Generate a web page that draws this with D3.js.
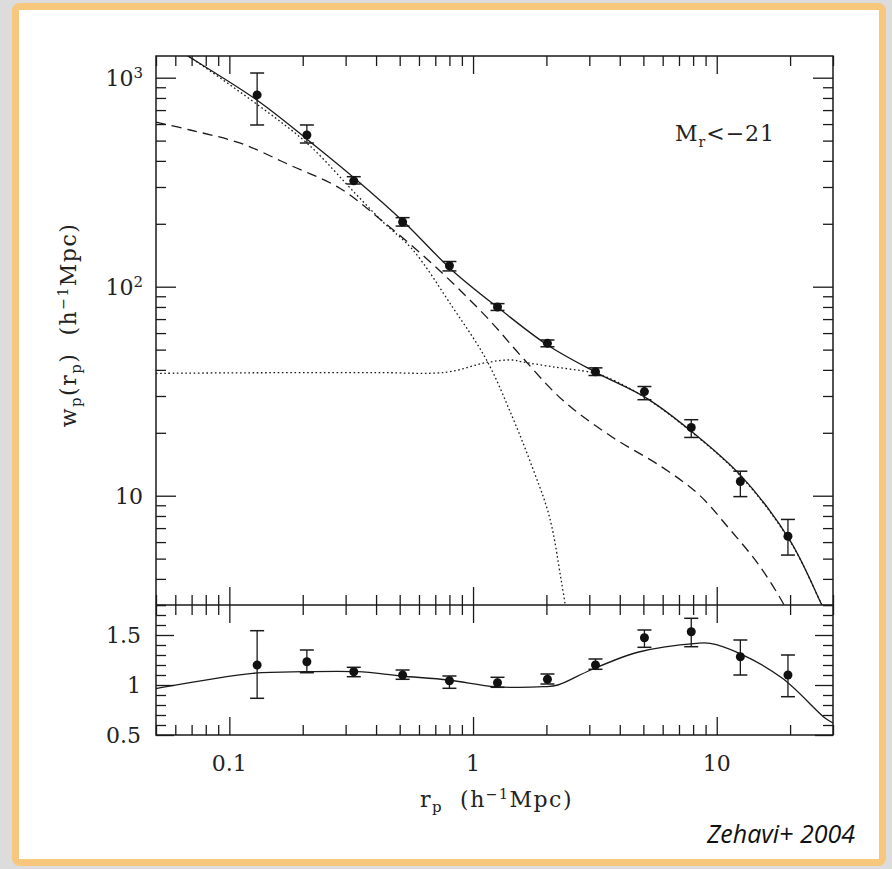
<!DOCTYPE html>
<html>
<head>
<meta charset="utf-8">
<script src="https://cdn.jsdelivr.net/npm/d3@7"></script>
<style>
  html, body { margin: 0; padding: 0; background: #dcdcdc; }
  svg { display: block; }
  .lbl { font-family: "DejaVu Serif", serif; font-size: 22px; fill: #222; }
  .note { font-family: "Open Sans", sans-serif; font-style: italic; font-size: 25px; fill: #111; }
</style>
</head>
<body>
<svg id="chart" width="892" height="869"></svg>
<script>
// ---- measured projected correlation function, M_r < -21 sample ----
const rp   = [0.13, 0.208, 0.324, 0.514, 0.80, 1.26, 2.02, 3.18, 5.05, 7.86, 12.5, 19.6];
const wp   = [827, 532, 321, 204, 126, 80, 53.6, 39.2, 31.5, 21.2, 11.7, 6.4];
const wpLo = [594, 487, 310, 195, 119, 77, 51.6, 37.6, 28.8, 19.0, 9.9, 5.2];
const wpHi = [1053, 594, 336, 214, 132, 83, 55.6, 40.9, 33.3, 23.1, 13.1, 7.7];

// ratio panel values
const ratio   = [1.20, 1.233, 1.133, 1.10, 1.043, 1.023, 1.057, 1.20, 1.473, 1.533, 1.283, 1.10];
const ratioLo = [0.867, 1.123, 1.083, 1.057, 0.967, 0.977, 1.01, 1.157, 1.377, 1.383, 1.10, 0.883];
const ratioHi = [1.543, 1.35, 1.177, 1.15, 1.09, 1.077, 1.11, 1.26, 1.55, 1.667, 1.45, 1.30];

// HOD model: total, one-halo and two-halo terms
const totalR = [0.06, 0.0676, 0.13, 0.21, 0.33, 0.52, 0.82, 1.3, 2.05, 3.25, 5.15, 8.0, 12.7, 20, 27, 30];
const totalW = [1390, 1270, 780, 504, 327, 204, 120, 77.5, 52, 38.5, 29.3, 20.0, 12.3, 6.1, 3.0, 2.3];

const oneHaloR = [0.06, 0.0676, 0.13, 0.21, 0.33, 0.427, 0.566, 0.823, 1.136, 1.45, 1.75, 2.06, 2.30, 2.45];
const oneHaloW = [1400, 1275, 745, 482, 278, 204, 150, 80, 44.6, 23.8, 13.7, 7.9, 3.94, 2.5];

const twoHaloR = [0.05, 0.1, 0.2, 0.414, 0.78, 1.136, 1.45, 1.59, 2.12, 3.09, 3.6, 5.15, 8.0, 12.7, 20, 27, 30];
const twoHaloW = [38.5, 38.7, 38.8, 38.8, 39.0, 43.4, 44.6, 43.7, 41.4, 38.8, 36.6, 29.2, 19.9, 12.2, 6.05, 3.0, 2.3];

// dark matter correlation function
const dmR = [0.05, 0.069, 0.111, 0.177, 0.284, 0.427, 0.62, 0.855, 1.17, 1.59, 2.33, 3.72, 5.97, 8.49, 11.2, 14.9, 18.9, 20];
const dmW = [613, 562, 486, 382, 296, 205, 142, 100, 69, 46, 28.7, 19.1, 13.7, 10.07, 7.0, 4.66, 3.0, 2.6];

// model curve in the ratio panel
const ratioModelR = [0.05, 0.0505, 0.1246, 0.2045, 0.336, 0.505, 0.793, 1.24, 1.95, 2.23, 3.04, 4.79, 8.27, 9.4, 12.4, 18.6, 27.9, 30];
const ratioModelV = [0.965, 0.967, 1.117, 1.133, 1.133, 1.09, 1.05, 0.983, 0.983, 1.0, 1.15, 1.33, 1.417, 1.417, 1.317, 1.067, 0.667, 0.62];

// tick values and labels
const xMajor = [0.1, 1, 10];
const xMajorLabels = ["0.1", "1", "10"];
const yMajor = [10, 100, 1000];
const yMajorBase = ["10", "10", "10"];
const yMajorExp = ["", "2", "3"];
const rMajor = [0.5, 1, 1.5];
const rMajorLabels = ["0.5", "1", "1.5"];

// ---- layout ----
const L = 156, R = 833, T = 56, MID = 605, B = 735;
const svg = d3.select("#chart");

// framed card
svg.append("rect").attr("x", 0).attr("y", 0).attr("width", 892).attr("height", 869).attr("fill", "#dcdcdc");
svg.append("rect")
  .attr("x", 15.5).attr("y", 6.5).attr("width", 867).attr("height", 856).attr("rx", 4)
  .attr("fill", "#ffffff").attr("stroke", "#f7c77d").attr("stroke-width", 7);

const x = d3.scaleLog().domain([0.05, 30]).range([L, R]);
const yTop = d3.scaleLog().domain([3, 1270]).range([MID, T]);
const yBot = d3.scaleLinear().domain([0.5, 1.8]).range([B, MID]);

const ink = "#1a1a1a";

// clip regions
const defs = svg.append("defs");
defs.append("clipPath").attr("id", "clipTop").append("rect")
  .attr("x", L).attr("y", T).attr("width", R - L).attr("height", MID - T);
defs.append("clipPath").attr("id", "clipBot").append("rect")
  .attr("x", L).attr("y", MID).attr("width", R - L).attr("height", B - MID);

// ---- ticks ----
const xMinor = [];
[0.01, 0.1, 1, 10].forEach(d => { for (let k = 2; k <= 9; k++) { const v = d * k; if (v >= 0.05 && v <= 30) xMinor.push(v); } });
const yMinor = [];
[1, 10, 100].forEach(d => { for (let k = 2; k <= 9; k++) { const v = d * k; if (v >= 3 && v <= 1270) yMinor.push(v); } });
const rMinor = d3.range(0.6, 1.8, 0.1).filter(v => Math.abs(v * 2 - Math.round(v * 2)) > 1e-6);

function tickAxis(axisFn, scale, values, size, tx, ty) {
  const g = svg.append("g").attr("transform", `translate(${tx},${ty})`)
    .call(axisFn(scale).tickValues(values).tickSize(-size).tickFormat(""));
  g.select(".domain").remove();
  g.selectAll("line").attr("stroke", ink).attr("stroke-width", 1.3);
  return g;
}
const MAJ = 18, MIN = 10;
// top panel
tickAxis(d3.axisTop, x, xMinor, MIN, 0, T);
tickAxis(d3.axisTop, x, xMajor, MAJ, 0, T);
tickAxis(d3.axisBottom, x, xMinor, MIN, 0, MID);
tickAxis(d3.axisBottom, x, xMajor, MAJ, 0, MID);
tickAxis(d3.axisLeft, yTop, yMinor, MIN, L, 0);
tickAxis(d3.axisLeft, yTop, yMajor, MAJ + 2, L, 0);
tickAxis(d3.axisRight, yTop, yMinor, MIN, R, 0);
tickAxis(d3.axisRight, yTop, yMajor, MAJ + 2, R, 0);
// ratio panel
tickAxis(d3.axisTop, x, xMinor, MIN, 0, MID);
tickAxis(d3.axisTop, x, xMajor, MAJ, 0, MID);
tickAxis(d3.axisBottom, x, xMinor, MIN, 0, B);
tickAxis(d3.axisBottom, x, xMajor, MAJ, 0, B);
tickAxis(d3.axisLeft, yBot, rMinor, MIN, L, 0);
tickAxis(d3.axisLeft, yBot, rMajor, MAJ, L, 0);
tickAxis(d3.axisRight, yBot, rMinor, MIN, R, 0);
tickAxis(d3.axisRight, yBot, rMajor, MAJ, R, 0);

// frames
svg.append("rect").attr("x", L).attr("y", T).attr("width", R - L).attr("height", B - T)
  .attr("fill", "none").attr("stroke", ink).attr("stroke-width", 1.5);
svg.append("line").attr("x1", L).attr("x2", R).attr("y1", MID).attr("y2", MID)
  .attr("stroke", ink).attr("stroke-width", 1.5);

// ---- tick labels ----
xMajor.forEach((v, i) => {
  svg.append("text").attr("class", "lbl").attr("x", x(v)).attr("y", 771)
    .attr("text-anchor", "middle").text(xMajorLabels[i]);
});
yMajor.forEach((v, i) => {
  const t = svg.append("text").attr("class", "lbl").attr("x", 143).attr("y", yTop(v) + 8)
    .attr("text-anchor", "end");
  t.append("tspan").text(yMajorBase[i]);
  if (yMajorExp[i]) t.append("tspan").attr("dy", -8).attr("font-size", 15).text(yMajorExp[i]);
});
rMajor.forEach((v, i) => {
  svg.append("text").attr("class", "lbl").attr("x", 141).attr("y", yBot(v) + 8)
    .attr("text-anchor", "end").text(rMajorLabels[i]);
});

// axis titles
const xt = svg.append("text").attr("class", "lbl").attr("x", (L + R) / 2 + 2).attr("y", 807)
  .attr("text-anchor", "middle").attr("letter-spacing", 1.5);
xt.append("tspan").text("r");
xt.append("tspan").attr("dy", 5).attr("font-size", 15).text("p");
xt.append("tspan").attr("dy", -5).text("\u00a0\u00a0(h");
xt.append("tspan").attr("dy", -8).attr("font-size", 14).text("\u22121");
xt.append("tspan").attr("dy", 8).text("Mpc)");

const yt = svg.append("text").attr("class", "lbl")
  .attr("transform", "translate(76,325) rotate(-90)")
  .attr("text-anchor", "middle").attr("letter-spacing", 1.5);
yt.append("tspan").text("w");
yt.append("tspan").attr("dy", 5).attr("font-size", 15).text("p");
yt.append("tspan").attr("dy", -5).text("(r");
yt.append("tspan").attr("dy", 5).attr("font-size", 15).text("p");
yt.append("tspan").attr("dy", -5).text(")\u00a0\u00a0(h");
yt.append("tspan").attr("dy", -8).attr("font-size", 14).text("\u22121");
yt.append("tspan").attr("dy", 8).text("Mpc)");

// sample label
const ml = svg.append("text").attr("class", "lbl").attr("x", 675).attr("y", 141).attr("letter-spacing", 1);
ml.append("tspan").text("M");
ml.append("tspan").attr("dy", 6).attr("font-size", 14).text("r");
ml.append("tspan").attr("dy", -6).text("<\u221221");

// credit
svg.append("text").attr("class", "note").attr("x", 855).attr("y", 843)
  .attr("text-anchor", "end").text("Zehavi+ 2004");

// ---- curves ----
const lineTop = d3.line().x(d => x(d[0])).y(d => yTop(d[1])).curve(d3.curveCatmullRom.alpha(0.5));
const lineBot = d3.line().x(d => x(d[0])).y(d => yBot(d[1])).curve(d3.curveCatmullRom.alpha(0.5));
const gTop = svg.append("g").attr("clip-path", "url(#clipTop)");
const gBot = svg.append("g").attr("clip-path", "url(#clipBot)");

function curve(g, gen, xs, ys, dash) {
  g.append("path").datum(xs.map((v, i) => [v, ys[i]]))
    .attr("d", gen).attr("fill", "none").attr("stroke", ink).attr("stroke-width", 1.3)
    .attr("stroke-dasharray", dash || null);
}
curve(gTop, lineTop, dmR, dmW, "10,6");
curve(gTop, lineTop, oneHaloR, oneHaloW, "1.6,2.6");
curve(gTop, lineTop, twoHaloR, twoHaloW, "1.6,2.6");
curve(gTop, lineTop, totalR, totalW);
curve(gBot, lineBot, ratioModelR, ratioModelV);

// ---- data points with error bars ----
function points(g, ys, lo, hi, yScale) {
  const cap = 7;
  rp.forEach((r, i) => {
    const cx = x(r);
    g.append("line").attr("x1", cx).attr("x2", cx).attr("y1", yScale(lo[i])).attr("y2", yScale(hi[i]))
      .attr("stroke", ink).attr("stroke-width", 1.3);
    [lo[i], hi[i]].forEach(v => {
      g.append("line").attr("x1", cx - cap).attr("x2", cx + cap).attr("y1", yScale(v)).attr("y2", yScale(v))
        .attr("stroke", ink).attr("stroke-width", 1.5);
    });
    g.append("circle").attr("cx", cx).attr("cy", yScale(ys[i])).attr("r", 4.5).attr("fill", "#111");
  });
}
points(svg.append("g"), wp, wpLo, wpHi, yTop);
points(svg.append("g"), ratio, ratioLo, ratioHi, yBot);
</script>
</body>
</html>
